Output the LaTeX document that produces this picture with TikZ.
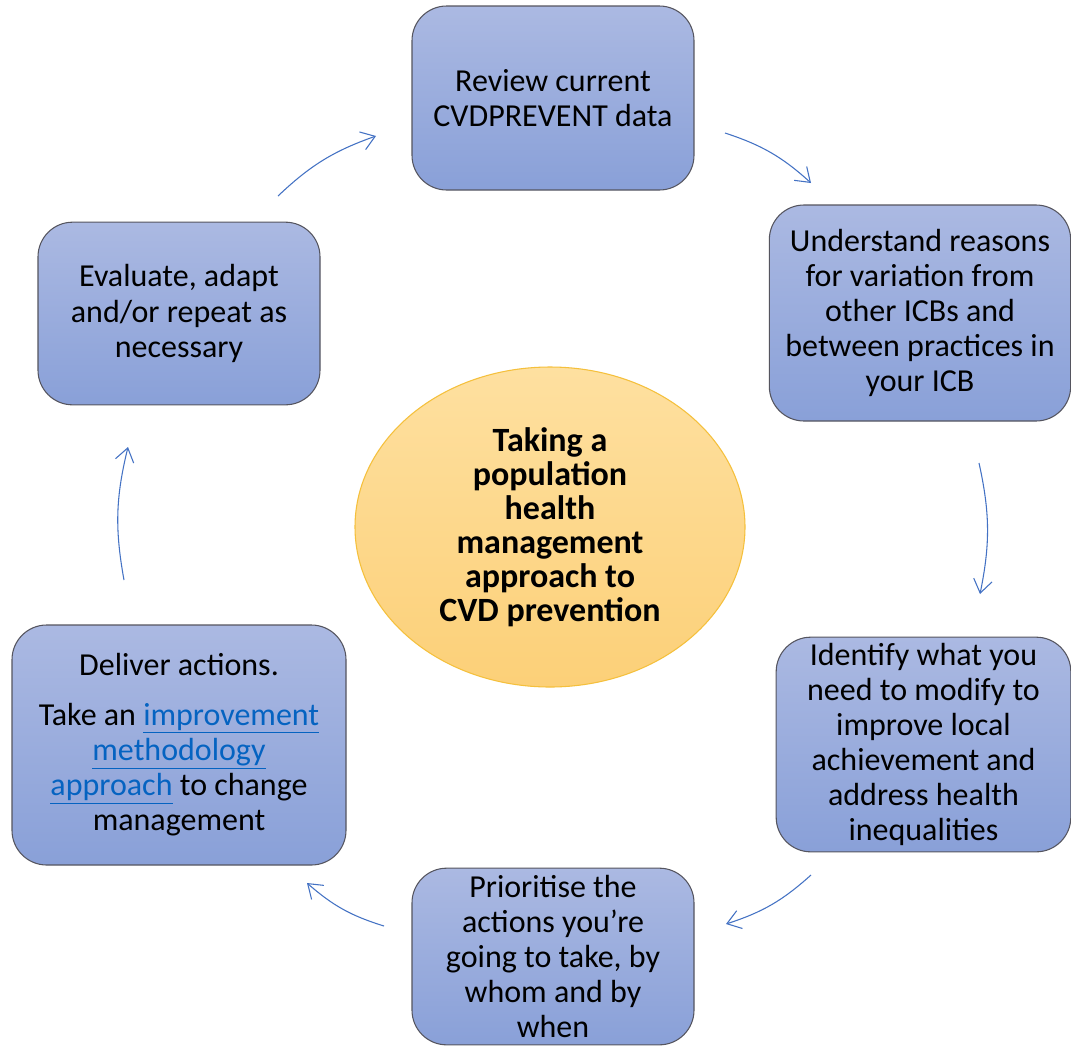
\documentclass[tikz,border=0pt]{standalone}
\usepackage{fontspec}
\setmainfont{Carlito}
\usetikzlibrary{arrows.meta,shapes.geometric}
\definecolor{boxtop}{RGB}{171,185,226}
\definecolor{boxbot}{RGB}{137,160,216}
\definecolor{boxline}{RGB}{85,85,95}
\definecolor{ovaltop}{RGB}{254,224,160}
\definecolor{ovalbot}{RGB}{252,208,120}
\definecolor{ovalline}{RGB}{245,192,60}
\definecolor{arrowblue}{RGB}{68,114,196}
\definecolor{linkblue}{RGB}{5,99,193}
\newcommand{\linktext}[1]{\textcolor{linkblue}{\underline{#1}}}

\begin{document}
\begin{tikzpicture}[x=0.75pt,y=0.75pt,
  stepbox/.style={draw=boxline,line width=0.8pt,rounded corners=26pt,
    top color=boxtop,bottom color=boxbot,align=center,
    font=\fontsize{24}{26.3}\selectfont,inner sep=0pt},
  oval/.style={ellipse,draw=ovalline,line width=0.8pt,
    top color=ovaltop,bottom color=ovalbot,align=center,
    font=\fontsize{25.5}{25.5}\selectfont\bfseries,inner sep=0pt},
  cyclearrow/.style={draw=arrowblue,line width=0.8pt,
    -{Straight Barb[length=10pt,width=14pt,line width=0.8pt]},bend left=12}]
\useasboundingbox (0,0) rectangle (1071,-1047);
\fill[white] (0,0) rectangle (1071,-1047);

% the six steps round the cycle
\node[stepbox,minimum width=211.5pt,minimum height=138pt] (review) at (553,-98)
  {Review current\\CVDPREVENT data};
\node[stepbox,minimum width=226pt,minimum height=162pt] (understand) at (920,-313)
  {Understand reasons\\for variation from\\other ICBs and\\between practices in\\your ICB};
\node[stepbox,minimum width=221pt,minimum height=161pt] (identify) at (923.5,-744.5)
  {Identify what you\\need to modify to\\improve local\\achievement and\\address health\\inequalities};
\node[stepbox,minimum width=211.5pt,minimum height=132.5pt] (prioritise) at (553,-956.5)
  {Prioritise the\\actions you’re\\going to take, by\\whom and by\\when};
\node[stepbox,minimum width=250.5pt,minimum height=180pt] (deliver) at (179,-745)
  {Deliver actions.\\[11pt]Take an \linktext{improvement}\\\linktext{methodology}\\\linktext{approach} to change\\management};
\node[stepbox,minimum width=211.5pt,minimum height=137pt] (evaluate) at (179,-313.5)
  {Evaluate, adapt\\and/or repeat as\\necessary};

% centre
\node[oval,minimum width=292.5pt,minimum height=240pt] (centre) at (550,-527)
  {Taking a\\population\\health\\management\\approach to\\CVD prevention};

% arrow ends
\coordinate (a1) at (278,-196);  \coordinate (b1) at (376,-136);
\coordinate (a2) at (725,-133);  \coordinate (b2) at (811,-183);
\coordinate (a3) at (979,-463);  \coordinate (b3) at (980,-594);
\coordinate (a4) at (811,-875);  \coordinate (b4) at (726,-924);
\coordinate (a5) at (384,-926);  \coordinate (b5) at (307,-883);
\coordinate (a6) at (124,-580);  \coordinate (b6) at (128,-447);

\draw[cyclearrow] (a1) to (b1);
\draw[cyclearrow] (a2) to (b2);
\draw[cyclearrow] (a3) to (b3);
\draw[cyclearrow] (a4) to (b4);
\draw[cyclearrow] (a5) to (b5);
\draw[cyclearrow] (a6) to (b6);
\end{tikzpicture}
\end{document}
